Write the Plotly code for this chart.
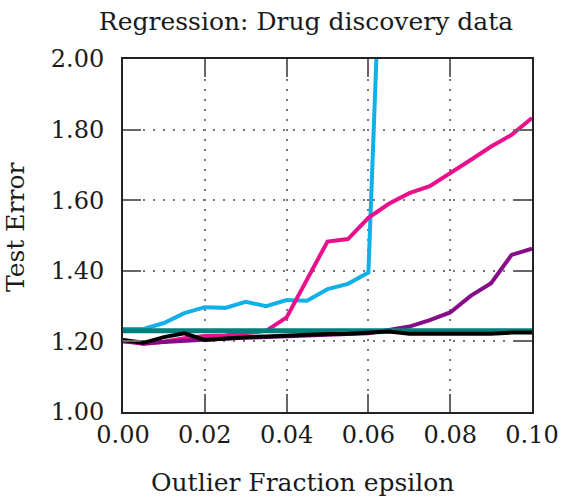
import plotly.graph_objects as go

# Outlier fraction grid
epsilon = [0.000, 0.005, 0.010, 0.015, 0.020, 0.025, 0.030, 0.035, 0.040, 0.045, 0.050,
           0.055, 0.060, 0.065, 0.070, 0.075, 0.080, 0.085, 0.090, 0.095, 0.100]

# Test error of each method
err_cyan = [1.235, 1.235, 1.252, 1.280, 1.297, 1.295, 1.312, 1.300, 1.317, 1.315, 1.348,
            1.363, 1.395, 2.950, 3.500, 4.000, 4.500, 5.000, 5.500, 6.000, 6.500]
err_magenta = [1.203, 1.193, 1.199, 1.209, 1.215, 1.217, 1.223, 1.230, 1.268, 1.377, 1.483,
               1.490, 1.550, 1.590, 1.620, 1.640, 1.676, 1.714, 1.752, 1.785, 1.833]
err_purple = [1.200, 1.195, 1.198, 1.202, 1.205, 1.208, 1.210, 1.212, 1.215, 1.217, 1.219,
              1.221, 1.223, 1.232, 1.242, 1.260, 1.282, 1.329, 1.365, 1.445, 1.463]
err_teal = [1.230] * 21
err_black = [1.204, 1.196, 1.212, 1.223, 1.204, 1.209, 1.212, 1.214, 1.217, 1.219, 1.221,
             1.222, 1.224, 1.228, 1.222, 1.222, 1.222, 1.222, 1.222, 1.225, 1.225]

x_ticks = [0.00, 0.02, 0.04, 0.06, 0.08, 0.10]
y_ticks = [1.00, 1.20, 1.40, 1.60, 1.80, 2.00]

FONT = "DejaVu Serif"
TXT = "#1a1a1a"

series = [
    (err_cyan, "#12b0e8", 4),
    (err_magenta, "#ec0f8c", 4),
    (err_purple, "#860c8a", 4),
    (err_teal, "#00807c", 5),
    (err_black, "#000000", 4),
]

fig = go.Figure()
for ys, col, w in series:
    fig.add_trace(go.Scatter(x=epsilon, y=ys, mode="lines",
                             line=dict(color=col, width=w), showlegend=False))

axis_common = dict(
    showline=True, linecolor="#222222", linewidth=2, mirror="ticks",
    ticks="inside", ticklen=18, tickwidth=2, tickcolor="#666666",
    showgrid=True, gridcolor="#777777", gridwidth=2, griddash="2px,8px",
    zeroline=False,
    tickfont=dict(family=FONT, size=24, color=TXT),
)

fig.update_xaxes(range=[0, 0.1], tickvals=x_ticks,
                 ticktext=[f"{v:.2f}" for v in x_ticks], ticklabelstandoff=0,
                 **axis_common)
fig.update_yaxes(range=[1.0, 2.0], tickvals=y_ticks,
                 ticktext=[f"{v:.2f}" for v in y_ticks], ticklabelstandoff=12,
                 **axis_common)

fig.update_layout(
    width=565, height=498,
    margin=dict(l=123, r=33, t=59, b=86, autoexpand=False),
    paper_bgcolor="white", plot_bgcolor="white",
    title=dict(text="Regression: Drug discovery data", x=0.5416, xanchor="center",
               y=0.958, yanchor="middle",
               font=dict(family=FONT, size=25, color=TXT)),
    annotations=[
        dict(text="Outlier Fraction epsilon", xref="paper", yref="paper",
             x=0.44, y=-0.201, xanchor="center", yanchor="middle", showarrow=False,
             font=dict(family=FONT, size=25, color=TXT)),
        dict(text="Test Error", xref="paper", yref="paper", textangle=-90,
             x=-0.264, y=0.524, xanchor="center", yanchor="middle", showarrow=False,
             font=dict(family=FONT, size=25, color=TXT)),
    ],
)

fig.write_html("out.html")
